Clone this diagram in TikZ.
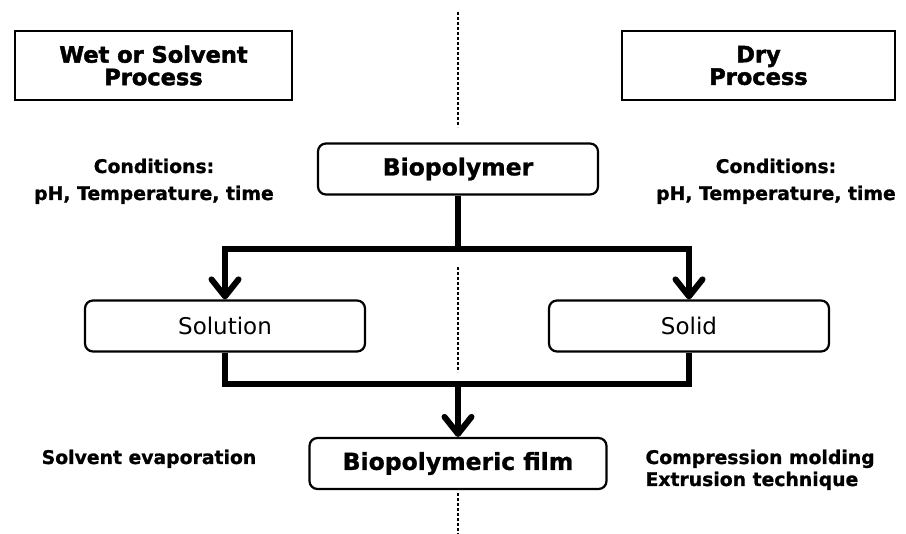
\documentclass[tikz,border=0pt]{standalone}
\usepackage{fontspec}
\setmainfont{DejaVu Sans}
\newfontfamily\heavyfont{DejaVu Sans Bold}[FakeBold=2]
\newfontfamily\semifont{DejaVu Sans Bold}[FakeBold=1]
\usetikzlibrary{arrows.meta}
\usetikzlibrary{calc}

\tikzset{
  procbox/.style={draw, line width=1.6pt, minimum width=277pt, minimum height=69pt, align=center, inner sep=0pt,
    font=\heavyfont\fontsize{22.5}{22.5}\selectfont},
  stagebox/.style={draw, line width=2.2pt, rounded corners=8pt, minimum height=51pt, inner sep=0pt},
  flow/.style={line width=6pt, line join=miter},
  flowarr/.style={flow, -{Straight Barb[round, length=17pt, width=27pt]}},
  divider/.style={line width=1.3pt, dash pattern=on 3pt off 2pt},
  cond/.style={anchor=base, font=\semifont\fontsize{18.8}{18.8}\selectfont}
}

\begin{document}
\begin{tikzpicture}[x=1pt, y=-1pt]
\useasboundingbox (0,0) rectangle (906,534);
\foreach \a/\b in {12/127, 267/372, 493/534} {
 \draw[divider] (458,\a) -- (458,\b);
}
\node[procbox] (wet) at (153.5,65.5) {Wet or Solvent\\Process};
\node[procbox, minimum width=273pt] (dry) at (758.5,65.5) {Dry\\Process};
\foreach \x/\nm in {154/condl, 776/condr} {
 \node[cond] (\nm) at (\x,173) {Conditions:};
 \node[cond] (\nm2) at (\x,200) {pH, Temperature, time};
}
\node[stagebox, minimum width=280pt, font=\semifont\fontsize{23.5}{23.5}\selectfont] (bio) at (458,169) {Biopolymer};
\node[stagebox, minimum width=280pt, font=\fontsize{23}{23}\selectfont] (sol) at (225,326) {Solution};
\node[stagebox, minimum width=280pt, font=\fontsize{23}{23}\selectfont] (solid) at (689,326) {Solid};
\node[stagebox, minimum width=297pt, font=\semifont\fontsize{23.5}{23.5}\selectfont] (film) at (458,463.5) {Biopolymeric film};
\node[cond] (evap) at (149,464) {Solvent evaporation};
\node[cond, anchor=base west] (comp) at (642,464) {Compression molding};
\node[cond, anchor=base west] (extr) at (642,486) {Extrusion technique};
\coordinate (split) at (458,249);
\coordinate (merge) at (458,384);
\draw[flow] (bio) -- (split);
\draw[flowarr] (split) -| (sol);
\draw[flowarr] (split) -| (solid);
\draw[flow] (sol) |- (merge);
\draw[flow] (solid) |- (merge);
\draw[flowarr] (merge) -- (film);
\end{tikzpicture}
\end{document}
